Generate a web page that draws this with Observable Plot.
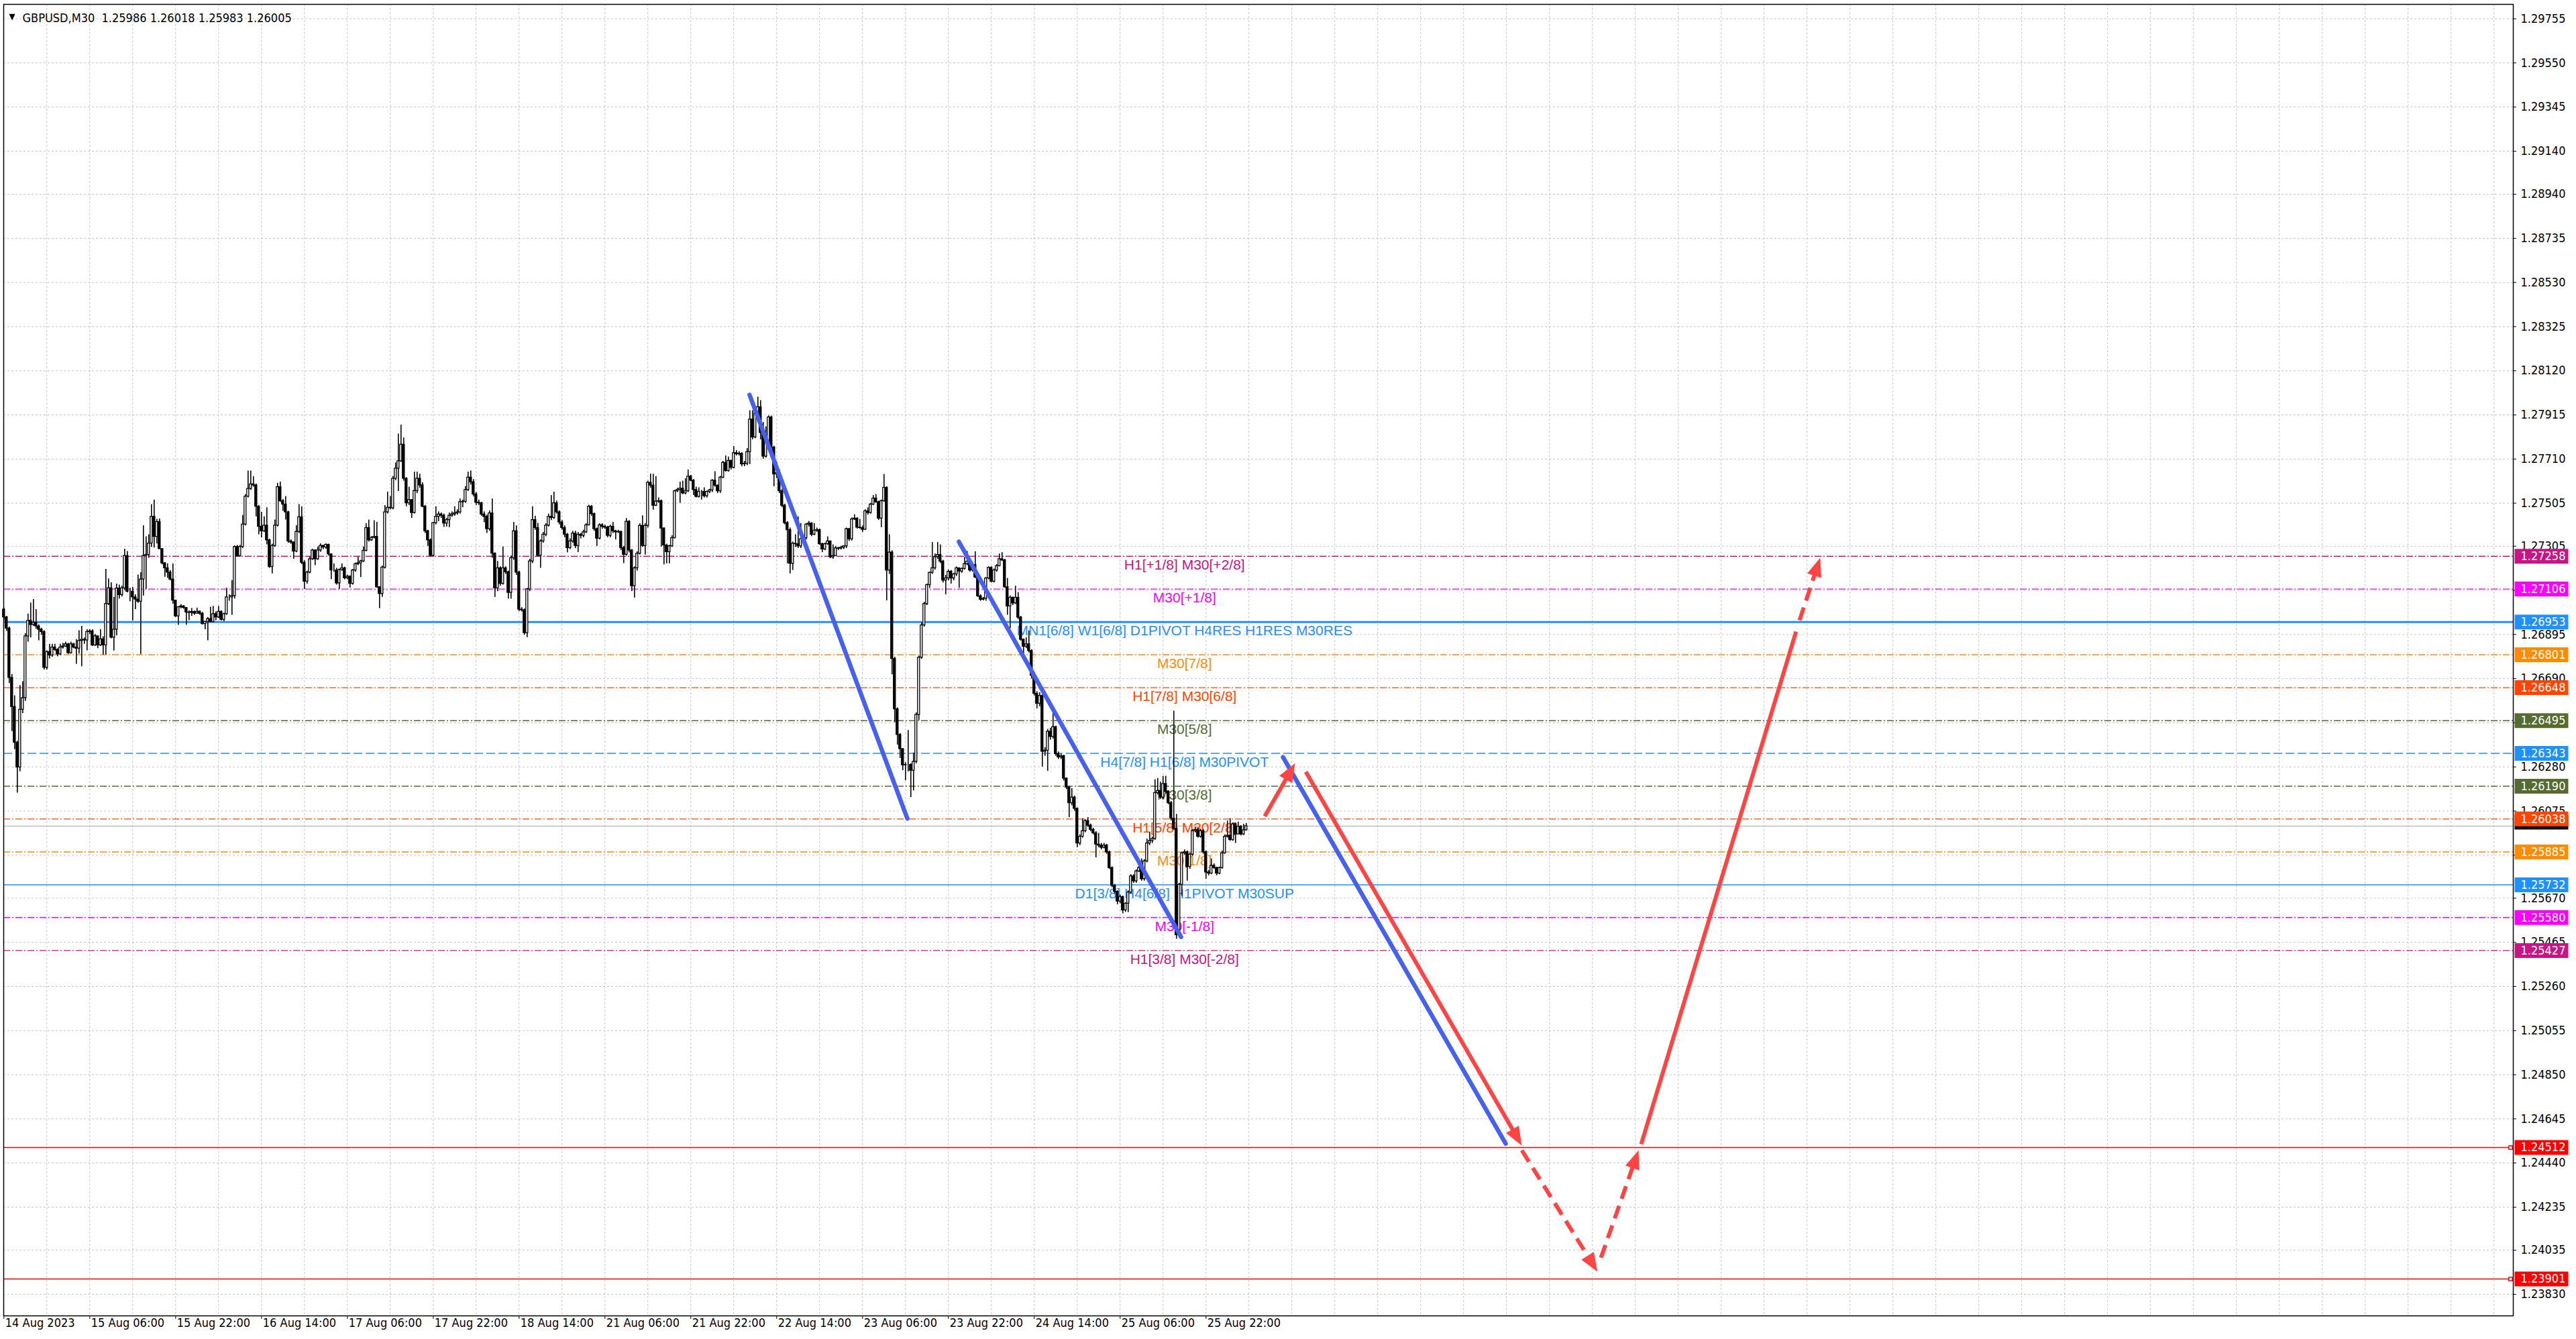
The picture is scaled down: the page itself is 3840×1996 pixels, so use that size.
<!DOCTYPE html>
<html>
<head>
<meta charset="utf-8">
<script src="https://cdn.jsdelivr.net/npm/d3@7"></script>
<script src="https://cdn.jsdelivr.net/npm/@observablehq/plot@0.6"></script>
<style>
  html, body { margin: 0; padding: 0; background: #fff; overflow: hidden; }
  #chart svg { display: block; }
</style>
</head>
<body>
<div id="chart"></div>
<script>
// GBPUSD M30 candles, pips relative to 1.26000, bar index 0 = 15 Aug 06:00
const firstBar = -32
const firstOpen = 101.1
const closePips = [
  97.5, 92.3, 69.4, 55.9, 39.3, 27.8, 54.6, 60.0, 88.7, 95.9,
  94, 95, 93.3, 91.8, 90.7, 74.1, 81.4, 79.8, 83.5, 82.4,
  80.3, 83.5, 84, 85, 80.9, 85, 83.5, 83, 86.6, 87.1,
  86.8, 90.7, 91, 84.5, 88.7, 84.5, 87.3, 84.5, 103.7, 111,
  88.1, 91.8, 110.9, 107.9, 111, 126, 109.4, 109.4, 106.8, 105.8,
  104.8, 115.1, 126, 126.5, 131.8, 144.2, 134.9, 141.8, 129.2, 122.6,
  120.3, 118.3, 115.1, 105.3, 98, 102.2, 102.6, 101.9, 99.8, 99.6,
  100, 99.3, 100.1, 99.2, 94.4, 95.4, 96.7, 95.4, 99, 97.5,
  100.1, 96.4, 99, 106.8, 106.8, 107.4, 130.2, 126, 130.2, 140.6,
  153.6, 157.2, 159.3, 158.8, 148.9, 139.6, 137.5, 140.1, 133.3, 120.9,
  130.7, 140.1, 158, 151.5, 149.9, 146.3, 132.8, 132.3, 128.1, 137.2,
  144, 122.9, 114.1, 118.3, 124.5, 128.6, 124.5, 128.6, 130.7, 130,
  131.2, 126.8, 119.3, 119.3, 113.3, 119.5, 120.3, 115.7, 116.4, 113.1,
  119.3, 122.2, 122.6, 123.5, 128.4, 139, 133.3, 134.4, 134.9, 111.5,
  108.4, 120.6, 146.3, 148.4, 148.2, 161.9, 166.6, 170, 177.7, 161.9,
  150.5, 152, 146, 156.2, 161.9, 158.8, 148.9, 137.5, 133.3, 126.1,
  141.3, 144.2, 145.3, 144.7, 141.1, 142.7, 144.7, 145.3, 145.8, 146.3,
  151, 151.2, 156.7, 162.4, 160.3, 154.6, 150.8, 150.5, 145.3, 144.2,
  138.5, 145.8, 127.1, 111, 120.3, 113.1, 120.3, 118.5, 108.9, 125,
  137.5, 118.3, 101.1, 100.8, 90.2, 110.5, 123.5, 142.7, 139, 126.1,
  132.8, 135.9, 140.1, 144.2, 143.7, 150.5, 146.3, 141.6, 139, 135.9,
  129.7, 132.8, 136.4, 130.7, 135.9, 135.4, 137, 140.3, 148.9, 145.5,
  138.5, 134.1, 140.3, 139.6, 139.2, 135.4, 139.6, 137.5, 137, 137.2,
  129.7, 126.6, 141.9, 128.6, 112, 120.3, 127.1, 140, 130.7, 140,
  160, 158.7, 149.4, 151.3, 151.5, 138.8, 130.9, 127.8, 130.5, 134.3,
  156.1, 156.7, 157.3, 155.1, 156.1, 162.9, 161, 156.7, 153.5, 155.8,
  155.8, 153.8, 155.8, 156.5, 161, 158.7, 156.1, 162.4, 169.3, 165.5,
  170.2, 167, 173.8, 173.3, 173.5, 168.6, 168.9, 174.3, 189.4, 181.1,
  192.2, 195.1, 183.2, 172.2, 179.5, 190.4, 176.4, 163.9, 164.5, 156.1,
  149.4, 141.3, 138, 122.4, 131.7, 131.5, 130.5, 133.8, 134.3, 140.6,
  141.1, 135.9, 137.8, 138, 131.5, 129.1, 131.5, 132.8, 125.4, 126,
  129.6, 129.4, 129.9, 130.5, 138.5, 133.8, 143, 143.4, 139.2, 139,
  138.2, 146.8, 146, 149.9, 152.7, 151, 143.4, 151.5, 157.7, 119.3,
  127.6, 78.2, 54.8, 42.9, 36.3, 28.8, 29, 29, 26.3, 30.4,
  52.2, 78.8, 93.8, 103.7, 112.5, 118.2, 120.3, 125.5, 126.5, 123.4,
  114.6, 115.6, 118.7, 115.6, 117.5, 120.3, 118.8, 120, 122.2, 123.4,
  119.3, 121.8, 116.1, 107.3, 105.7, 106.2, 115.6, 120.5, 114.1, 119.3,
  121.3, 124.5, 124, 111.5, 102.6, 106.6, 104, 106.6, 97.4, 87.1,
  83.9, 85, 81.9, 70.4, 62, 57.4, 61, 35.1, 35.6, 44.4,
  42, 46.5, 34, 32.5, 33, 22.6, 18.5, 11.2, 13.8, 8.6,
  -7.5, -4.4, -1.8, 2.9, 0.8, -1.2, -2.8, -8, -8.5, -9.5,
  -8.5, -11.6, -18.9, -27.2, -30, -34.5, -32.4, -38.6, -35.5, -30.3,
  -22.8, -25.1, -20.5, -18.9, -24.1, -15.8, -7.5, -6.4, -5.4, 15.9,
  16.9, 13.8, 20.1, 16.4, 11.2, 4, -0.7, -50.1, -26.7, -12.1,
  -11.6, -18.4, -12.7, -1.8, -1.2, -4.4, -1.8, -11.6, -21, -21.5,
  -17.9, -18.9, -21.5, -18.9, -12.1, -4.4, -3.9, -5.9, 1.4, -3.3,
  0.3, -3.3, -1.4, 0.5
]
const highPips = [
  101.8, 98, 93, 71, 61.1, 40, 65.8, 67.6, 90, 99,
  104.2, 105.8, 101.1, 94, 92.5, 91.3, 82, 85, 85, 85,
  83, 85, 85.5, 86, 85.5, 86, 85.5, 87.2, 91.3, 93.3,
  88, 91.8, 91.8, 91.8, 89.6, 88.7, 91.8, 88.5, 119.8, 115.4,
  113.6, 106.8, 113, 112.5, 112, 129.2, 128.1, 111, 111.5, 108,
  117.2, 118.3, 140.1, 134.9, 135.9, 149.9, 152, 143, 143.2, 129.5,
  123, 122.4, 119.3, 122.4, 105.5, 102.5, 103.5, 103, 101, 100.5,
  101.6, 100.5, 101.8, 100.5, 99.8, 95.6, 97.5, 102.2, 102.6, 100,
  102.6, 100.5, 99.5, 111, 108, 114.6, 130.7, 131, 131, 144.8,
  154.6, 165.5, 165.5, 162.9, 159.5, 149.5, 146.3, 144.2, 148.4, 133.8,
  131.5, 142.7, 159.8, 160.3, 152.3, 153.6, 146.8, 133.5, 132.6, 140.1,
  149.9, 148.9, 123.8, 119, 125.5, 129.2, 128.8, 130.2, 131.7, 131,
  131.7, 131.5, 127, 122.4, 120.3, 120, 122.4, 120.8, 117.2, 116.8,
  119.8, 122.8, 125.5, 124, 130.2, 141.1, 142.7, 135, 142.4, 141.6,
  111.8, 121.3, 149.4, 155.7, 153.6, 163, 169.2, 182.7, 186.8, 180.8,
  162.4, 158, 152, 165, 165, 164, 160, 149.5, 138, 134,
  141.6, 148.9, 146.5, 146, 145.5, 143.5, 146, 146.5, 148.9, 147.5,
  152.5, 152, 158.3, 165, 165.5, 161.5, 155.5, 152, 151, 146.5,
  145, 147, 152.5, 127.5, 123.5, 121, 130.2, 121, 119, 126,
  141.6, 140, 119, 102, 101.5, 111, 124.5, 148.9, 144.5, 141.2,
  133.5, 137, 141, 145.5, 154.1, 155.7, 151.5, 147, 142.5, 140,
  136.5, 134, 137.5, 137.5, 137, 136.5, 138, 141, 149.6, 149.5,
  146, 139, 141, 141, 140.3, 139.8, 140.3, 141.6, 138, 138,
  137.5, 130.5, 143.4, 142.5, 129, 121, 128, 141, 144.7, 141,
  160.8, 164.1, 164, 162.9, 153, 152, 139, 131.5, 131, 135.4,
  156.5, 157.5, 160.3, 160.8, 161.9, 166, 163.5, 161.5, 158, 157.7,
  156.5, 157.7, 156.2, 157, 161.5, 165.2, 159, 163, 170, 172.5,
  172, 170.5, 176.9, 175, 174.5, 174, 170, 175.9, 193.5, 193.5,
  194.6, 199.8, 198.2, 188, 186, 191.1, 191, 177, 169.6, 166,
  157, 150, 142, 139, 132.5, 135.9, 144.2, 141.1, 135, 141.1,
  142.1, 141.5, 141.1, 139, 138.5, 132, 132, 134.9, 126, 131.2,
  130.5, 130, 130.5, 130.8, 139, 138.8, 143.7, 145.2, 143.8, 143,
  140, 147.5, 148.4, 150.5, 154.1, 154.6, 151.5, 152, 163.9, 158.2,
  135.9, 128.5, 79, 55.5, 43.5, 36.5, 30, 45, 29.5, 34.5,
  53.2, 79.5, 95, 104.5, 113, 118.5, 132.3, 127, 132.3, 131.2,
  124, 117, 119.5, 119.3, 118, 121, 120.5, 120.5, 125.3, 128.1,
  124, 122.5, 128, 117, 108, 106.8, 116, 121, 121, 120,
  122, 127, 127.6, 124.5, 115.6, 107.5, 107, 112, 109, 98,
  87.5, 88, 91.2, 82.5, 72, 63, 62.5, 61.5, 37, 45.5,
  46, 54, 47, 35, 34, 33.5, 23, 19, 18, 14.5,
  9, -3.5, 4, 3.5, 4.5, 1.5, -0.5, -2, -2.8, -7.5,
  -7.5, -8, -11, -18.4, -26.5, -29.5, -31.5, -32, -35, -29.5,
  -22, -22, -19.8, -18, -14.7, -15, -5.4, -2.3, -4.5, 22.1,
  22.7, 21, 23.7, 23.7, 17, 12, 54, 6, -26, -11.5,
  -10.5, -11, -12, -1, 0, -0.5, -1, -1, -11, -20,
  -14.7, -17, -18.5, -18.5, -11, -3.5, 2.9, 4, 2, 2,
  2.4, 0.8, 1.4, 1.8
]
const lowPips = [
  96, 91, 66.8, 44.5, 36.1, 15.9, 25.8, 52.8, 58.5, 86,
  88, 93.3, 92, 86.6, 89.2, 73.1, 73.1, 78.2, 79, 81.8,
  79.2, 79.8, 82.8, 83.5, 80.3, 80.5, 83, 75.7, 80.5, 74.6,
  85, 82, 89.5, 84, 84, 83, 84, 80, 80, 103,
  87.6, 81.9, 89, 106, 107, 110, 108.9, 104.8, 95.9, 101.1,
  104, 80.3, 107.4, 110.5, 125, 130, 129.7, 131.7, 129.2, 121.9,
  116.2, 115.7, 114.5, 103.7, 97.5, 93.8, 101.5, 101.3, 93.9, 96,
  98, 98.5, 99, 98.5, 94, 91.8, 86.6, 95, 95, 96,
  97, 95.8, 95.5, 98.5, 105, 98.5, 106, 125.5, 125.5, 129.5,
  140, 153, 156.5, 158, 144.2, 135.9, 134.4, 137, 131.2, 120.3,
  117.7, 130, 139.5, 150.9, 146.8, 142.7, 132, 131.5, 124.5, 127.5,
  136.5, 122, 110.5, 113, 117.8, 124, 121.5, 124, 127.8, 129,
  129.2, 126, 115.1, 118.5, 112.5, 110.5, 119, 115, 115, 111.2,
  112.5, 118.5, 121.5, 116, 123, 128, 132.5, 132.8, 134, 111,
  101.6, 106.8, 120, 145.5, 147.5, 147.5, 161, 156, 169.5, 160.8,
  148.9, 149.5, 143.5, 145.5, 155, 157.5, 148.5, 136.5, 130.5, 125.5,
  125.5, 140.5, 142, 143.5, 139.3, 139.5, 139.2, 144, 144.5, 145,
  145.5, 148.5, 150.5, 156, 159, 153.5, 149.5, 149.5, 144.5, 141.5,
  136.5, 137.5, 125, 106.8, 109.5, 112, 112.5, 117.5, 106, 106,
  124, 117, 100.2, 100, 89.2, 88.1, 109.5, 122.5, 138, 125.5,
  120.3, 132, 135, 139.5, 142.5, 143, 145.5, 140.5, 138, 134.5,
  127.5, 129, 132, 129.5, 127.6, 134, 134.5, 136.5, 140, 144.5,
  137.5, 130.5, 133.5, 138.5, 138.5, 134.5, 134.5, 136.5, 133.5, 136.5,
  128.5, 122.5, 126, 127.5, 109.5, 106.5, 119, 126.5, 130, 126.5,
  139, 157.5, 147.3, 149, 150.5, 130.2, 121.9, 122.4, 122.4, 130,
  134, 155.5, 150.5, 154.5, 154.5, 155.5, 160.5, 154.1, 153, 153,
  152, 153, 153, 155, 155.5, 158, 155, 155.1, 162, 165,
  165, 166, 166.5, 172.5, 172.5, 167.5, 167.5, 168, 168.5, 180,
  180.5, 191.5, 180, 171, 171.5, 178, 175.5, 158.2, 162, 155,
  148.5, 140.5, 122.4, 117.7, 119.3, 130, 129.5, 129.5, 133, 133.5,
  139.5, 135, 135.5, 137, 131, 127.6, 128.5, 131, 124.8, 124.5,
  126.5, 128.5, 128.8, 129, 129.5, 132.8, 133, 142.5, 138.5, 138.5,
  137, 138, 145, 145.5, 149.5, 150.5, 142.5, 139.2, 151, 105.2,
  117.5, 70.9, 48.6, 38.2, 32, 26.3, 21.6, 25.7, 13.8, 16.9,
  29.5, 49.6, 78, 93, 103, 111, 117.5, 119.5, 124.5, 122.5,
  113.5, 108, 114.5, 113, 114.5, 116.5, 111, 118, 119.5, 121.5,
  118.5, 118.5, 115.5, 106.8, 105, 105.2, 105, 115, 113.5, 113.5,
  118.5, 121, 123.5, 111, 98.5, 92.2, 103, 103.5, 96.5, 86.5,
  79.8, 83, 81, 68.9, 61, 55, 56, 28, 33, 26,
  40.5, 41, 33, 31.5, 31.5, 21.5, 17.5, 4.5, 10, 7.5,
  -9.5, -8.5, -5, -2.5, 0, -2, -3.5, -14.2, -9.5, -10.5,
  -10, -12.5, -19.6, -28, -31, -36, -35.5, -40.2, -39.5, -39.6,
  -31, -26, -26, -21, -25, -25, -16.5, -8.5, -7.5, -6,
  15, 13, 13, 15.5, 10.5, 3, -1.5, -52, -51, -32,
  -13, -25, -19.5, -13.5, -2.5, -5, -5, -12.5, -24.1, -22.5,
  -22, -19.5, -22.5, -22, -19.5, -12.5, -5, -6.5, -6.5, -7.5,
  -3.5, -4, -3.8, -1.7
]

// Murrey-style levels drawn as horizontal lines
const levelPrices = [1.27258, 1.27106, 1.26953, 1.26801, 1.26648, 1.26495, 1.26343, 1.26190, 1.26038, 1.25885, 1.25732, 1.25580, 1.25427]
const levelNames = ["H1[+1/8] M30[+2/8]", "M30[+1/8]", "MN1[6/8] W1[6/8] D1PIVOT H4RES H1RES M30RES", "M30[7/8]",
  "H1[7/8] M30[6/8]", "M30[5/8]", "H4[7/8] H1[6/8] M30PIVOT", "M30[3/8]", "H1[5/8] M30[2/8]", "M30[1/8]",
  "D1[3/8] H4[6/8] H1PIVOT M30SUP", "M30[-1/8]", "H1[3/8] M30[-2/8]"]
const levelColors = ["#C71585", "#FF00FF", "#1E90FF", "#FF8C00", "#FF4500", "#556B2F", "#1E90FF", "#556B2F", "#FF4500", "#FF8C00", "#1E90FF", "#FF00FF", "#C71585"]
const levelStyles = ["dashdot", "dashdot", "thick", "dashdot", "dashdot", "dashdot", "dash", "dashdot", "dashdot", "dashdot", "solid", "dashdot", "dashdot"]
const targetPrices = [1.24512, 1.23901]
const bidPrice = 1.26005

// axes
const priceTicks = [1.29755, 1.29550, 1.29345, 1.29140, 1.28940, 1.28735, 1.28530, 1.28325, 1.28120, 1.27915, 1.27710, 1.27505,
  1.27305, 1.27100, 1.26895, 1.26690, 1.26485, 1.26280, 1.26075, 1.25870, 1.25670, 1.25465, 1.25260, 1.25055, 1.24850,
  1.24645, 1.24440, 1.24235, 1.24035, 1.23830]
const dateBars = [-32, 0, 32, 64, 96, 128, 160, 192, 224, 256, 288, 320, 352, 384, 416]
const dateNames = ["14 Aug 2023", "15 Aug 06:00", "15 Aug 22:00", "16 Aug 14:00", "17 Aug 06:00", "17 Aug 22:00", "18 Aug 14:00",
  "21 Aug 06:00", "21 Aug 22:00", "22 Aug 14:00", "23 Aug 06:00", "23 Aug 22:00", "24 Aug 14:00", "25 Aug 06:00", "25 Aug 22:00"]

// drawn trend lines (bar index, price)
const blueX1 = [245.9, 323.9, 444.7]
const blueY1 = [1.28008, 1.27326, 1.26325]
const blueX2 = [304.7, 406.7, 527.7]
const blueY2 = [1.26040, 1.25490, 1.24530]
const redX1 = [437.9, 453.2, 533.7, 563.2, 578.2, 637.2]
const redY1 = [1.26051, 1.26257, 1.24499, 1.24000, 1.24527, 1.26961]
const redX2 = [449.2, 533.7, 561.9, 577.2, 635.9, 644.9]
const redY2 = [1.26297, 1.24521, 1.23935, 1.24499, 1.26908, 1.27251]
const redDashed = [false, false, true, true, false, true]
const redHead = [true, true, true, true, false, true]

const W = 3840, H = 1996
const mL = 5, mR = 94, mT = 6, mB = 35
const xDom = [-32.08, 903.2], yDom = [1.23730, 1.29822]
const kx = (W - mL - mR) / (xDom[1] - xDom[0])
const ky = (H - mT - mB) / (yDom[1] - yDom[0])
const axisFont = "'DejaVu Sans Condensed', 'DejaVu Sans', sans-serif"
const labelFont = "'Liberation Sans', Arial, sans-serif"

const candles = closePips.map((c, i) => {
  const o = 1.26 + (i === 0 ? firstOpen : closePips[i - 1]) / 10000
  const cl = 1.26 + c / 10000
  const hi = 1.26 + (highPips[i] ?? c) / 10000
  const lo = 1.26 + (lowPips[i] ?? c) / 10000
  return {bar: firstBar + i, open: o, close: cl, high: Math.max(hi, o, cl), low: Math.min(lo, o, cl)}
})

const levels = levelPrices.map((p, i) => ({price: p, name: levelNames[i], color: levelColors[i], style: levelStyles[i]}))
// the bid tag sits under the 1.26038 tag, so only its box edge shows
const tags = levels.map(d => ({price: d.price, color: d.color}))
  .concat(targetPrices.map(p => ({price: p, color: "#FF0000"})))

const blue = blueX1.map((x, i) => ({x1: x, y1: blueY1[i], x2: blueX2[i], y2: blueY2[i]}))

// red arrows: shorten the shaft a bit so it ends inside the head
const HEAD_L = 28, HEAD_W = 11
const red = redX1.map((x, i) => {
  const dx = (redX2[i] - x) * kx, dy = -(redY2[i] - redY1[i]) * ky
  const len = Math.hypot(dx, dy), ux = dx / len, uy = dy / len
  const cut = redHead[i] ? HEAD_L * 0.6 : 0
  return {x1: x, y1: redY1[i], x2: redX2[i] - cut * ux / kx, y2: redY2[i] + cut * uy / ky,
    tipX: redX2[i], tipY: redY2[i], ux, uy, dashed: redDashed[i], head: redHead[i]}
})

function headSymbol(ux, uy) {
  return {draw(ctx) {
    ctx.moveTo(0, 0)
    ctx.lineTo(-HEAD_L * ux - HEAD_W * uy, -HEAD_L * uy + HEAD_W * ux)
    ctx.lineTo(-HEAD_L * ux + HEAD_W * uy, -HEAD_L * uy - HEAD_W * ux)
    ctx.closePath()
  }}
}
const tagShape = {draw(ctx) { ctx.rect(-40, -11, 80, 22) }}

const gridBars = d3.range(-16, 903, 16)
const dashdot = "10,3,2,3"

let chart = Plot.plot({
  width: W,
  height: H,
  marginLeft: mL, marginRight: mR, marginTop: mT, marginBottom: mB,
  style: {background: "white", fontFamily: axisFont, fontSize: "18px", color: "black", overflow: "visible"},
  x: {domain: xDom, ticks: dateBars, tickFormat: () => "", tickSize: 5, label: null},
  y: {domain: yDom, axis: "right", ticks: priceTicks, tickFormat: d3.format(".5f"), tickSize: 4, tickPadding: 7, label: null},
  marks: [
    Plot.ruleY(priceTicks, {stroke: "#c4c4c4", strokeDasharray: "3,3"}),
    Plot.ruleX(gridBars, {stroke: "#c4c4c4", strokeDasharray: "3,3"}),

    Plot.ruleY(levels.filter(d => d.style === "dashdot"), {y: "price", stroke: "color", strokeWidth: 1.4, strokeDasharray: dashdot}),
    Plot.ruleY(levels.filter(d => d.style === "dash"), {y: "price", stroke: "color", strokeWidth: 1.4, strokeDasharray: "13,5"}),
    Plot.ruleY(levels.filter(d => d.style === "solid"), {y: "price", stroke: "color", strokeWidth: 1.6}),
    Plot.ruleY(levels.filter(d => d.style === "thick"), {y: "price", stroke: "color", strokeWidth: 3}),
    Plot.ruleY([bidPrice], {stroke: "#bdbdbd", strokeWidth: 1.5}),
    Plot.ruleY(targetPrices, {stroke: "#FF0000", strokeWidth: 1.5}),

    Plot.text(levels, {x: () => 408, y: "price", text: "name", fill: "color", dy: 13,
      fontSize: 21, fontFamily: labelFont, textAnchor: "middle"}),

    // candles
    Plot.ruleX(candles, {x: "bar", y1: "low", y2: "high", stroke: "black", strokeWidth: 1.6}),
    Plot.rect(candles, {x1: d => d.bar - 0.38, x2: d => d.bar + 0.38, y1: "open", y2: "close",
      fill: d => d.close >= d.open ? "white" : "black", stroke: "black", strokeWidth: 1.3}),

    // trend drawings
    Plot.link(blue, {x1: "x1", y1: "y1", x2: "x2", y2: "y2", stroke: "#4661F0", strokeWidth: 6.5, strokeLinecap: "round"}),
    Plot.link(red.filter(d => !d.dashed), {x1: "x1", y1: "y1", x2: "x2", y2: "y2", stroke: "#FF4444", strokeWidth: 6, strokeLinecap: "butt"}),
    Plot.link(red.filter(d => d.dashed), {x1: "x1", y1: "y1", x2: "x2", y2: "y2", stroke: "#FF4444", strokeWidth: 6,
      strokeDasharray: "20,11", strokeLinecap: "butt"}),
    ...red.filter(d => d.head).map(d =>
      Plot.dot([d], {x: "tipX", y: "tipY", symbol: headSymbol(d.ux, d.uy), fill: "#FF4444", stroke: "none"})),

    // right-side price tags (black bid box first, mostly hidden)
    Plot.dot([bidPrice], {y: d => d, frameAnchor: "right", dx: 42, dy: -6, symbol: tagShape, fill: "black", stroke: "none"}),
    Plot.dot(tags, {y: "price", frameAnchor: "right", dx: 42, symbol: tagShape, fill: "color", stroke: "none"}),
    Plot.text(tags, {y: "price", text: d => d.price.toFixed(5), frameAnchor: "right", dx: 11, textAnchor: "start", fill: "white"}),
    Plot.dot(targetPrices, {y: d => d, frameAnchor: "right", dx: -4, symbol: "square", r: 3, fill: "white", stroke: "#FF0000"}),

    // date labels under the frame
    Plot.text(dateBars, {x: d => d, text: (d, i) => dateNames[i], frameAnchor: "bottom", dy: 16, dx: 2, textAnchor: "start", fill: "black"}),

    // header
    Plot.text(["\u25BC"], {frameAnchor: "top-left", dx: 8, dy: 13, textAnchor: "start", fontSize: 13, fill: "black"}),
    Plot.text(["GBPUSD,M30\u00A0\u00A01.25986 1.26018 1.25983 1.26005"], {frameAnchor: "top-left", dx: 28, dy: 14,
      textAnchor: "start", fill: "black"}),

    Plot.frame({stroke: "black", strokeWidth: 1.5})
  ]
})

d3.select('#chart').append(() => chart)
</script>
</body>
</html>
